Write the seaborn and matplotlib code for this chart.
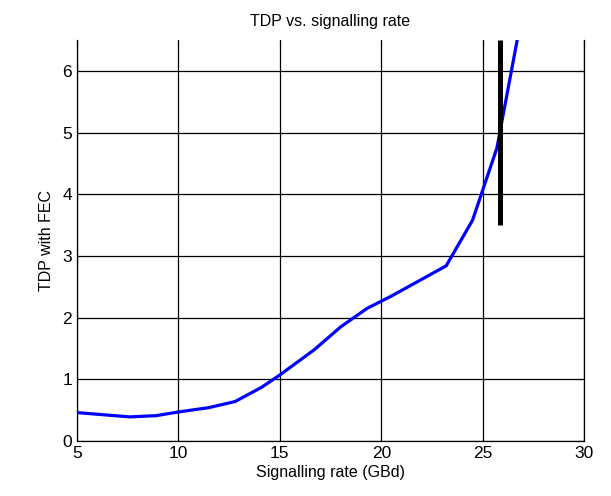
import numpy as np
import pandas as pd
import matplotlib
matplotlib.use("Agg")
import matplotlib.pyplot as plt
import seaborn as sns

# values
rate_gbd = [5.0, 7.6, 8.9, 10.0, 11.5, 12.8, 14.1, 15.0, 16.7, 18.0, 19.3, 20.5, 23.2, 24.5, 25.7, 26.7]
tdp_fec = [0.46, 0.39, 0.41, 0.47, 0.54, 0.64, 0.87, 1.07, 1.48, 1.85, 2.15, 2.35, 2.84, 3.58, 4.75, 6.5]
limit_x = [25.86, 25.86]
limit_y = [3.5, 6.5]

sns.set_style("white")
plt.rcParams['font.family'] = ['Liberation Sans', 'DejaVu Sans']
plt.rcParams['text.color'] = 'black'
plt.rcParams['axes.labelcolor'] = 'black'

fig = plt.figure(figsize=(6.11, 4.96), dpi=100)
ax = fig.add_axes([0.126, 0.111, 0.830, 0.808])

df = pd.DataFrame({'rate': rate_gbd, 'tdp': tdp_fec})
sns.lineplot(data=df, x='rate', y='tdp', ax=ax, color='#0000ff', linewidth=2.3,
             sort=False, estimator=None, zorder=3)
sns.lineplot(x=limit_x, y=limit_y, ax=ax, color='black', linewidth=3.6,
             estimator=None, zorder=4, solid_capstyle='butt')

ax.set_xlim(5, 30)
ax.set_ylim(0, 6.5)
ax.set_xticks([5, 10, 15, 20, 25, 30])
ax.set_yticks([0, 1, 2, 3, 4, 5, 6])
ax.grid(True, color='black', linewidth=0.9, linestyle='-')
ax.set_axisbelow(True)

for s in ['left', 'bottom', 'right']:
    ax.spines[s].set_visible(True)
    ax.spines[s].set_color('black')
    ax.spines[s].set_linewidth(0.9)
ax.spines['top'].set_visible(False)
ax.tick_params(direction='in', length=4, top=True, right=True, labelsize=12.5,
               colors='black', width=0.8)

ax.set_title('TDP vs. signalling rate', fontsize=11.5, pad=10, color='black')
ax.set_xlabel('Signalling rate (GBd)', fontsize=11.5, labelpad=3)
ax.set_ylabel('TDP with FEC', fontsize=11.5, labelpad=6)

fig.savefig('out.png', dpi=100)
